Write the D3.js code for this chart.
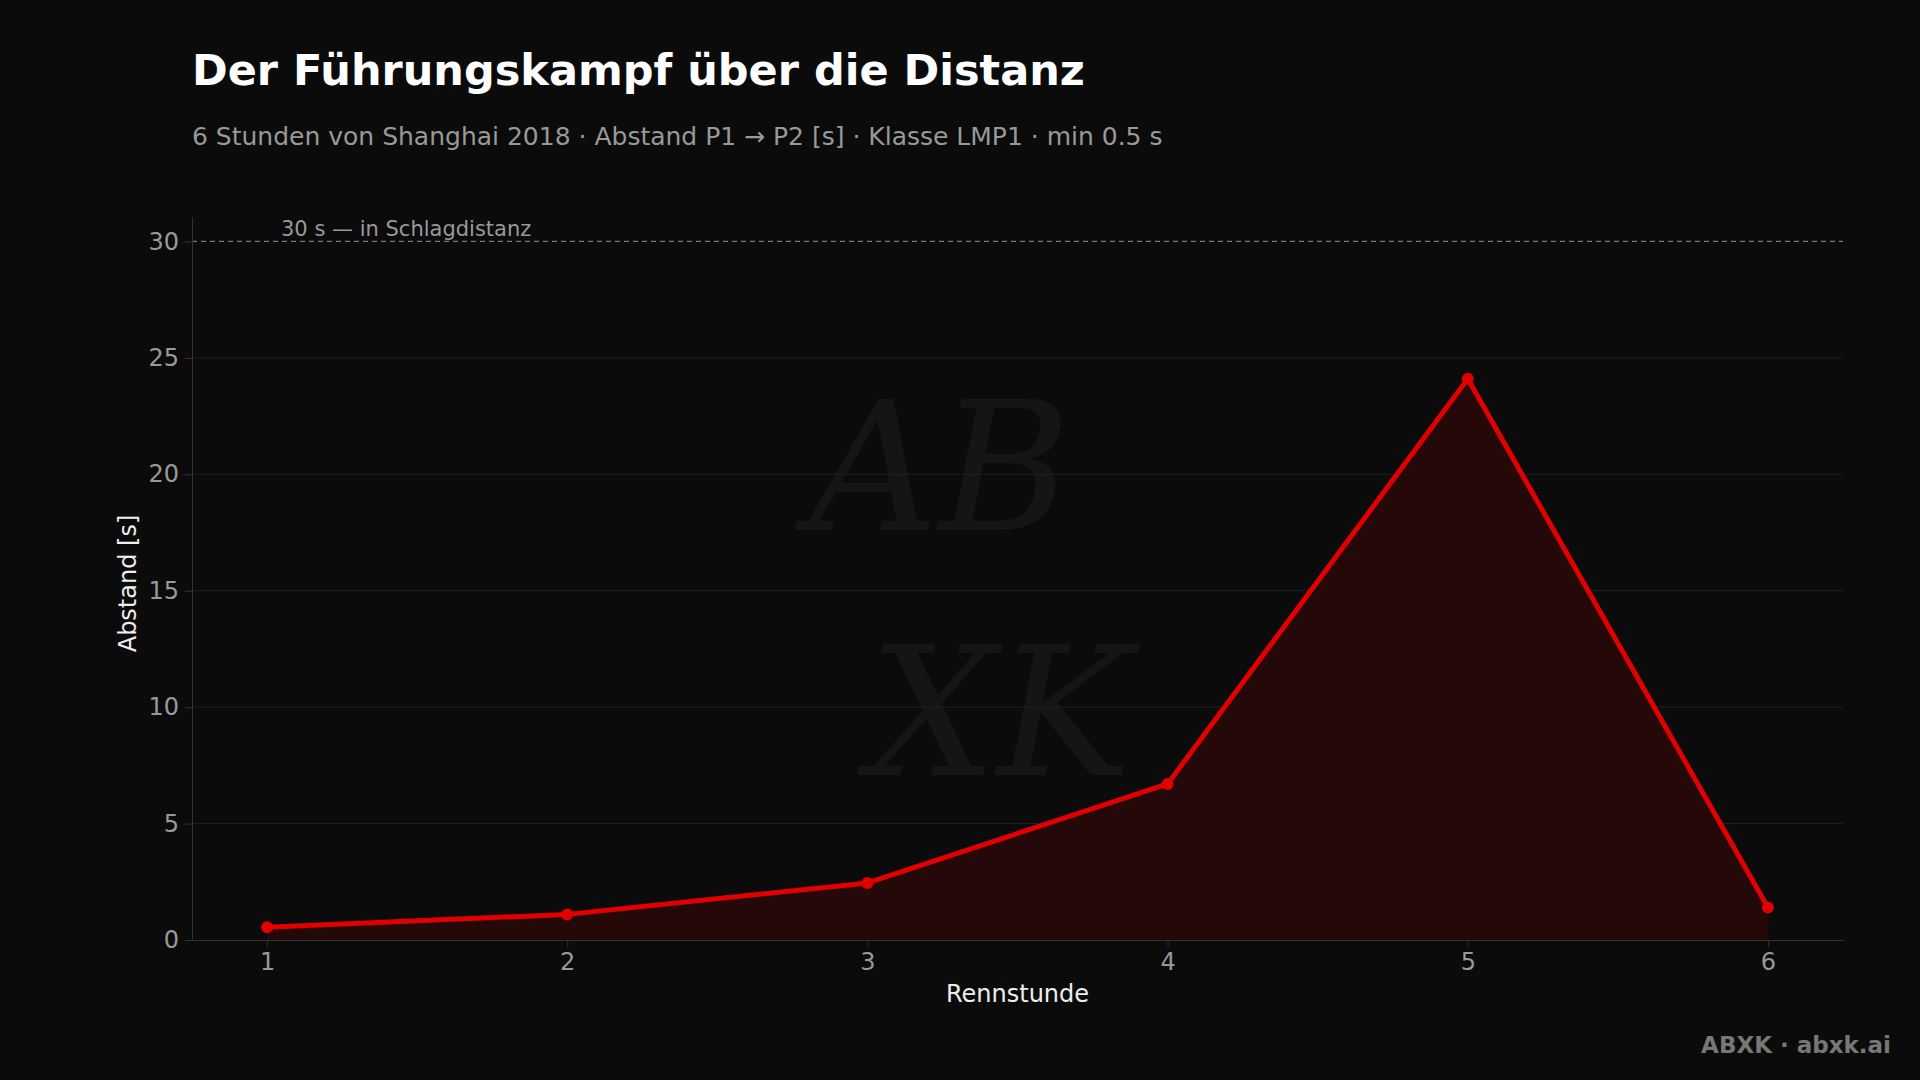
<!DOCTYPE html>
<html><head><meta charset="utf-8">
<script src="https://cdn.jsdelivr.net/npm/d3@7"></script>
<style>html,body{margin:0;background:#0b0b0b;}svg{display:block;font-family:"DejaVu Sans",sans-serif;}</style>
</head><body><svg id="c" width="1920" height="1080"></svg>
<script>
const hours = [1,2,3,4,5,6];
const gaps = [0.55,1.1,2.45,6.7,24.1,1.4];
const yTicks = [0,5,10,15,20,25,30];
const xTicks = [1,2,3,4,5,6];

const svg = d3.select("#c");
svg.append("rect").attr("width",1920).attr("height",1080).attr("fill","#0b0b0b");
const L=192,R=1843,T=217,B=940;
const x=d3.scaleLinear().domain([0.75,6.25]).range([L,R]);
const y=d3.scaleLinear().domain([0,31.05]).range([B,T]);

// watermark
svg.append("text").attr("x",940).attr("y",530).attr("text-anchor","middle")
 .attr("font-family","DejaVu Serif").attr("font-style","italic").attr("font-size",180)
 .attr("fill","#151515").text("AB");
svg.append("text").attr("x",1000).attr("y",775).attr("text-anchor","middle")
 .attr("font-family","DejaVu Serif").attr("font-style","italic").attr("font-size",180)
 .attr("fill","#151515").text("XK");

svg.append("g").selectAll("line").data(yTicks.filter(d=>d>0&&d<30)).join("line")
 .attr("x1",L).attr("x2",R).attr("y1",d=>y(d)).attr("y2",d=>y(d))
 .attr("stroke","#202020").attr("stroke-width",1);
svg.append("line").attr("x1",L).attr("x2",R).attr("y1",y(30)).attr("y2",y(30))
 .attr("stroke","#777").attr("stroke-dasharray","5,4").attr("stroke-width",1.2);
svg.append("text").attr("x",281).attr("y",y(30)-5).attr("fill","#999").attr("font-size",21)
 .text("30 s — in Schlagdistanz");

svg.append("path").datum(hours.map((h,i)=>[h,gaps[i]]))
 .attr("d",d3.area().x(d=>x(d[0])).y0(y(0)).y1(d=>y(d[1]))).attr("fill","#250909");
svg.append("path").datum(hours.map((h,i)=>[h,gaps[i]]))
 .attr("d",d3.line().x(d=>x(d[0])).y(d=>y(d[1]))).attr("fill","none")
 .attr("stroke","#e00000").attr("stroke-width",5).attr("stroke-linejoin","round");
svg.append("g").selectAll("circle").data(hours).join("circle")
 .attr("cx",d=>x(d)).attr("cy",(d,i)=>y(gaps[i])).attr("r",6).attr("fill","#e00000");

const ya=svg.append("g").attr("transform",`translate(${L},0)`).call(d3.axisLeft(y).tickValues(yTicks).tickFormat(d3.format("d")).tickSize(7).tickSizeOuter(0).tickPadding(6));
const xa=svg.append("g").attr("transform",`translate(0,${B})`).call(d3.axisBottom(x).tickValues(xTicks).tickFormat(d3.format("d")).tickSize(7).tickSizeOuter(0).tickPadding(6));
[ya,xa].forEach(a=>{a.selectAll("path,line").attr("stroke","#333");
 a.selectAll("text").attr("fill","#999").attr("font-size",24).attr("font-family","DejaVu Sans");});

svg.append("text").attr("transform",`translate(136,${(T+B)/2+5}) rotate(-90)`).attr("text-anchor","middle")
 .attr("fill","#eee").attr("font-size",24).text("Abstand [s]");
svg.append("text").attr("x",(L+R)/2).attr("y",1002).attr("text-anchor","middle")
 .attr("fill","#eee").attr("font-size",24).text("Rennstunde");

svg.append("text").attr("x",192).attr("y",85).attr("fill","#fff").attr("font-size",43).attr("font-weight","bold")
 .text("Der Führungskampf über die Distanz");
svg.append("text").attr("x",192).attr("y",145).attr("fill","#999").attr("font-size",25)
 .text("6 Stunden von Shanghai 2018 · Abstand P1 → P2 [s] · Klasse LMP1 · min 0.5 s");
svg.append("text").attr("x",1891).attr("y",1053).attr("text-anchor","end").attr("fill","#777")
 .attr("font-size",23).attr("font-weight","bold").text("ABXK · abxk.ai");
</script></body></html>
